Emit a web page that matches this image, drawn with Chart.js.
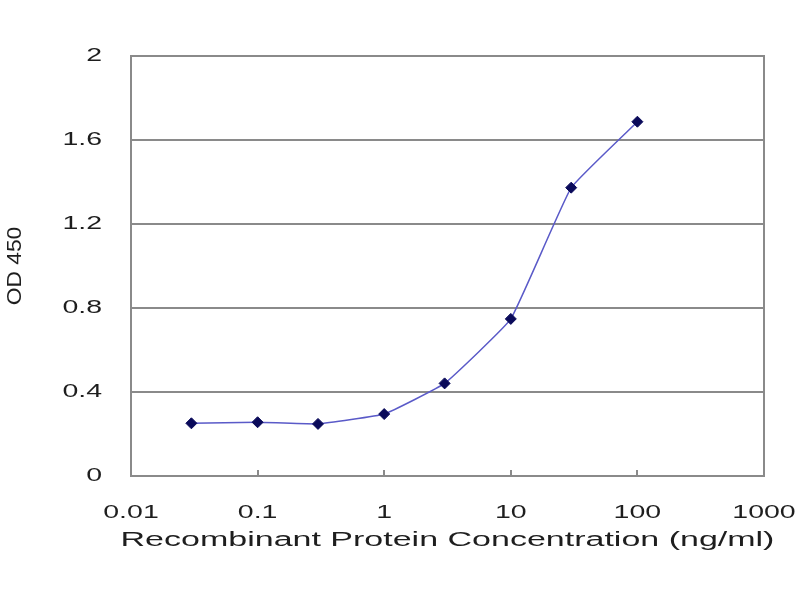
<!DOCTYPE html>
<html>
<head>
<meta charset="utf-8">
<script src="https://cdn.jsdelivr.net/npm/chart.js@4/dist/chart.umd.min.js"></script>
<style>
  html, body { margin: 0; padding: 0; background: #ffffff; }
  #wrap { width: 800px; height: 600px; }
</style>
</head>
<body>
<div id="wrap"><canvas id="c" width="800" height="600"></canvas></div>
<script>
const concentrations = [0.03, 0.1, 0.3, 1, 3, 10, 30, 100];
const od450 = [0.251, 0.256, 0.248, 0.295, 0.441, 0.748, 1.373, 1.687];
const xTickValues = [0.01, 0.1, 1, 10, 100, 1000];
const yTickValues = [0, 0.4, 0.8, 1.2, 1.6, 2];
const xTitle = 'Recombinant Protein Concentration (ng/ml)';
const yTitle = 'OD 450';

const GRID = '#8a8a8a';
const TEXT = '#1e1e1e';

// Horizontally stretched text, as in the reference picture
const stretchPlugin = {
  id: 'stretchText',
  beforeDraw(chart) {
    const ctx = chart.ctx;
    if (ctx.__patched) return;
    ctx.__patched = true;
    const orig = ctx.fillText;
    ctx.fillText = function (t, x, y, mw) {
      let sx = 1.5;
      if (t === xTitle) sx = 1.70;
      else if (t === yTitle) sx = 1.14;
      this.save();
      this.translate(x, y);
      this.scale(sx, 1);
      orig.call(this, t, 0, 0);
      this.restore();
    };
  }
};

const framePlugin = {
  id: 'frame',
  afterDatasetsDraw(chart) {
    const { ctx, chartArea: a } = chart;
    ctx.save();
    ctx.strokeStyle = GRID;
    ctx.lineWidth = 2;
    ctx.strokeRect(a.left, a.top, a.right - a.left, a.bottom - a.top);
    ctx.restore();
  }
};

new Chart(document.getElementById('c'), {
  type: 'scatter',
  data: {
    datasets: [{
      data: concentrations.map((x, i) => ({ x, y: od450[i] })),
      showLine: true,
      borderColor: '#5a5ac8',
      borderWidth: 1.5,
      tension: 0.1,
      pointStyle: 'rectRot',
      pointRadius: 5.5,
      pointBackgroundColor: '#0a0a5a',
      pointBorderColor: '#0a0a5a',
      pointBorderWidth: 1
    }]
  },
  plugins: [stretchPlugin, framePlugin],
  options: {
    responsive: false,
    devicePixelRatio: 1,
    animation: false,
    layout: { padding: { top: 56, right: 36, left: 0, bottom: 0 } },
    plugins: { legend: { display: false }, tooltip: { enabled: false } },
    scales: {
      x: {
        type: 'logarithmic',
        min: 0.01,
        max: 1000,
        afterBuildTicks: s => { s.ticks = xTickValues.map(v => ({ value: v })); },
        afterFit: s => { s.height = 124; s.paddingRight = 0; s.paddingLeft = 0; },
        grid: { drawOnChartArea: false, drawTicks: true, tickLength: -6, tickColor: GRID, lineWidth: 2 },
        border: { display: false },
        ticks: {
          autoSkip: false,
          maxRotation: 0,
          padding: 31,
          color: TEXT,
          font: { family: 'Liberation Sans, Arial, sans-serif', size: 19 },
          callback: v => String(v)
        },
        title: {
          display: true,
          text: xTitle,
          color: TEXT,
          font: { family: 'Liberation Sans, Arial, sans-serif', size: 20 },
          padding: { top: 0, bottom: 48 }
        }
      },
      y: {
        min: 0,
        max: 2,
        afterBuildTicks: s => { s.ticks = yTickValues.map(v => ({ value: v })); },
        afterFit: s => { s.width = 131; },
        grid: { color: GRID, lineWidth: 2, drawTicks: false },
        border: { display: false },
        ticks: {
          padding: 29,
          color: TEXT,
          font: { family: 'Liberation Sans, Arial, sans-serif', size: 19 },
          callback: v => String(Math.round(v * 10) / 10)
        },
        title: {
          display: true,
          text: yTitle,
          color: TEXT,
          font: { family: 'Liberation Sans, Arial, sans-serif', size: 20 },
          padding: { top: 3, bottom: 0 }
        }
      }
    }
  }
});
</script>
</body>
</html>
